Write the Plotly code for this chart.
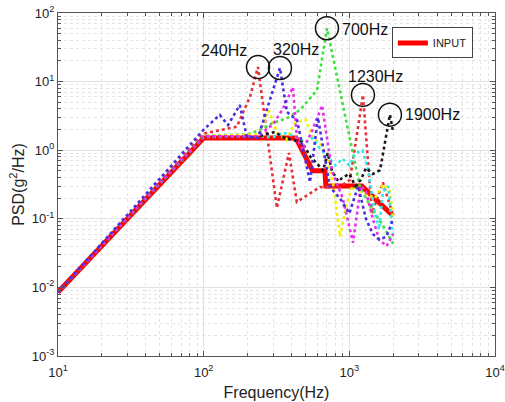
import numpy as np
import plotly.graph_objects as go

# ---------------- data ----------------
input_f = [10, 100, 430, 560, 680, 690, 1220, 2000]
input_p = [0.0085, 1.5, 1.5, 0.5, 0.5, 0.3, 0.3, 0.11]

red_f = [10, 100, 169, 208, 236, 318, 385, 436, 628, 861, 1009, 1240, 1430, 1700, 2000]
red_p = [0.0085, 1.75, 2.2, 6.0, 16.3, 0.144, 0.91, 0.176, 0.29, 0.29, 0.37, 6.4, 0.12, 0.34, 0.11]

green_f = [10, 100, 200, 243, 299, 370, 458, 600, 702, 1183, 1400, 1700, 2000]
green_p = [0.0085, 1.62, 1.7, 1.97, 2.5, 2.9, 3.85, 7.5, 60, 0.29, 0.15, 0.08, 0.043]

yellow_f = [10, 100, 240, 280, 320, 370, 420, 500, 560, 640, 700, 780, 861, 950, 1050, 1200, 1500, 1700, 1900, 2000]
yellow_p = [0.0085, 1.6, 1.7, 3.8, 1.8, 1.4, 2.5, 2.8, 1.5, 1.2, 0.8, 0.3, 0.055, 0.15, 0.3, 0.25, 0.2, 0.32, 0.25, 0.1]

cyan_f = [10, 100, 250, 300, 350, 420, 500, 560, 620, 700, 800, 900, 1000, 1100, 1230, 1350, 1500, 1600, 1700, 1850, 2000]
cyan_p = [0.0085, 1.55, 1.6, 1.55, 1.8, 1.6, 1.3, 1.5, 1.1, 0.85, 0.6, 0.75, 0.6, 0.9, 1.0, 0.5, 0.12, 0.07, 0.25, 0.3, 0.05]

black_f = [10, 100, 240, 308, 360, 473, 540, 608, 660, 711, 760, 840, 900, 1000, 1100, 1200, 1300, 1450, 1624, 1900, 2000]
black_p = [0.0085, 1.6, 1.6, 1.84, 1.5, 1.32, 0.8, 0.62, 0.5, 0.91, 0.5, 0.35, 0.4, 0.45, 0.3, 0.37, 0.55, 0.45, 0.51, 3.3, 1.8]

magenta_f = [10, 100, 236, 300, 350, 410, 437, 480, 560, 650, 760, 900, 1060, 1200, 1300, 1450, 1600, 1800, 2000]
magenta_p = [0.0085, 1.6, 1.6, 2.4, 4.0, 8.3, 1.5, 1.0, 2.0, 4.5, 0.5, 0.2, 0.045, 0.3, 0.25, 0.1, 0.05, 0.04, 0.06]

violet_f = [10, 100, 129, 147, 177, 198, 236, 334, 373, 437, 537, 608, 736, 860, 1000, 1150, 1300, 1450, 1600, 1800, 2000]
violet_p = [0.0085, 2.0, 3.26, 2.33, 4.56, 1.56, 1.52, 15.8, 3.6, 2.75, 0.34, 3.0, 0.29, 0.2, 0.12, 0.3, 0.1, 0.06, 0.05, 0.055, 0.1]

peak_labels = ["240Hz", "320Hz", "700Hz", "1230Hz", "1900Hz"]

x_tickvals = [10, 100, 1000, 10000]
x_ticktext = ["10<sup>1</sup>", "10<sup>2</sup>", "10<sup>3</sup>", "10<sup>4</sup>"]
y_tickvals = [0.001, 0.01, 0.1, 1, 10, 100]
y_ticktext = ["10<sup>-3</sup>", "10<sup>-2</sup>", "10<sup>-1</sup>", "10<sup>0</sup>", "10<sup>1</sup>", "10<sup>2</sup>"]

FONT = "Liberation Sans, Arial, sans-serif"

fig = go.Figure()

fig.add_trace(go.Scatter(x=input_f, y=input_p, mode="lines", name="INPUT",
                         line=dict(color="#ff0000", width=5), showlegend=True))

series = [
    (red_f, red_p, "#e8303a"),
    (green_f, green_p, "#3fe03f"),
    (yellow_f, yellow_p, "#f0f000"),
    (cyan_f, cyan_p, "#30eaea"),
    (black_f, black_p, "#1a1a1a"),
    (magenta_f, magenta_p, "#ea30ea"),
    (violet_f, violet_p, "#4a2ee0"),
]
for f, p, c in series:
    fig.add_trace(go.Scatter(x=f, y=p, mode="lines", showlegend=False,
                             line=dict(color=c, width=2.6, dash="3px,3px")))

# peaks to circle: (series arrays, frequency window)
def peak(f, p, lo, hi):
    f = np.asarray(f, float); p = np.asarray(p, float)
    m = (f >= lo) & (f <= hi)
    i = np.argmax(np.where(m, p, -1))
    return f[i], p[i]

peaks = [peak(red_f, red_p, 200, 280), peak(violet_f, violet_p, 280, 400),
         peak(green_f, green_p, 600, 800), peak(red_f, red_p, 1100, 1400),
         peak(black_f, black_p, 1700, 2000)]

fig.add_trace(go.Scatter(x=[q[0] for q in peaks], y=[q[1] for q in peaks], mode="markers",
                         showlegend=False,
                         marker=dict(symbol="circle-open", size=23, color="#111",
                                     line=dict(width=1.5, color="#111"))))

label_pos = [  # xanchor, xshift, yshift
    ("right", -9, 17),
    ("left", -9, 18),
    ("left", 13, -1),
    ("center", 13, 18),
    ("left", 13, 0),
]
for (fx, py), txt, (xa, xs, ys) in zip(peaks, peak_labels, label_pos):
    fig.add_annotation(x=np.log10(fx), y=np.log10(py), xref="x", yref="y", text=txt,
                       showarrow=False, xanchor=xa, yanchor="middle", xshift=xs, yshift=ys,
                       font=dict(family=FONT, size=16, color="#111"))

minor_x = [m * 10 ** k for k in range(1, 4) for m in range(2, 10)]
minor_y = [m * 10.0 ** k for k in range(-3, 2) for m in range(2, 10)]

axis_common = dict(showline=True, linecolor="#555", linewidth=1, mirror="ticks",
                   ticks="inside", ticklen=5, tickcolor="#555", automargin=False,
                   showgrid=True, gridcolor="#e2e2e2", gridwidth=1,
                   tickfont=dict(family=FONT, size=13, color="#222"), zeroline=False)

fig.update_xaxes(type="log", range=[1, 4], tickmode="array", tickvals=x_tickvals, ticktext=x_ticktext,
                 ticklabelstandoff=4,
                 title=dict(text="Frequency(Hz)", font=dict(family=FONT, size=16, color="#222"), standoff=8),
                 minor=dict(tickmode="array", tickvals=minor_x, ticks="inside", ticklen=3, tickcolor="#555",
                            showgrid=True, gridcolor="#e4e4e4", griddash="dot", gridwidth=1),
                 **axis_common)
fig.update_yaxes(type="log", range=[-3, 2], tickmode="array", tickvals=y_tickvals, ticktext=y_ticktext,
                 title=dict(text="PSD(g<sup>2</sup>/Hz)", font=dict(family=FONT, size=16, color="#222"), standoff=3),
                 minor=dict(tickmode="array", tickvals=minor_y, ticks="inside", ticklen=3, tickcolor="#555",
                            showgrid=True, gridcolor="#e4e4e4", griddash="dot", gridwidth=1),
                 **axis_common)

fig.update_layout(
    width=505, height=402,
    margin=dict(l=58, r=10, t=13, b=46),
    paper_bgcolor="white", plot_bgcolor="white",
    legend=dict(x=0.764, y=0.958, xanchor="left", yanchor="top",
                bgcolor="white", bordercolor="#444", borderwidth=1,
                font=dict(family=FONT, size=11, color="#222"),
                itemwidth=30, entrywidth=84, tracegroupgap=0),
    showlegend=True,
)

fig.write_html("out.html")
